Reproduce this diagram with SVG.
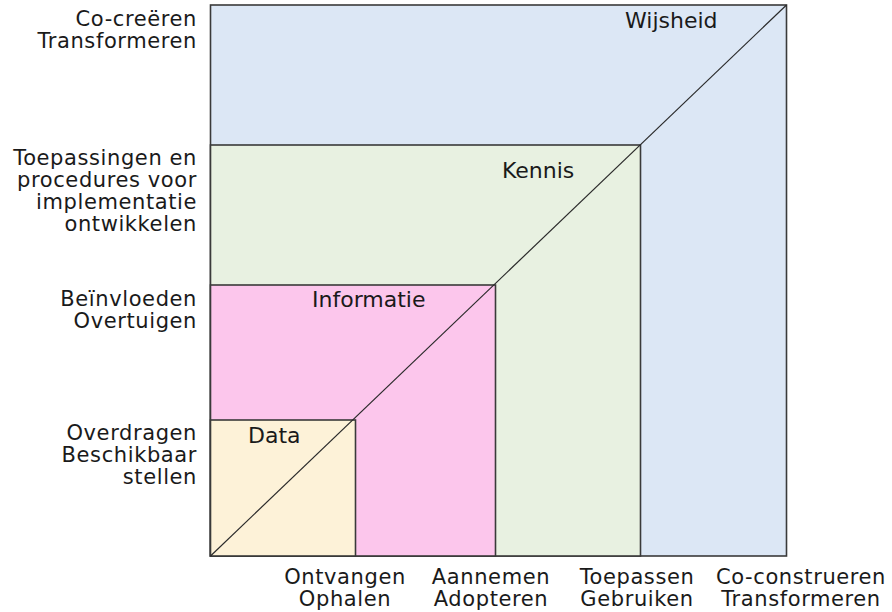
<svg xmlns="http://www.w3.org/2000/svg" width="892" height="612" viewBox="0 0 892 612">
<style>
  text { font-family: "DejaVu Sans", Verdana, sans-serif; font-size: 21px; fill: #1a1a1a; }
  .lvl { stroke: #3a3a3a; stroke-width: 1.6; }
  .side { text-anchor: end; letter-spacing: 0.6px; }
  .bot { text-anchor: middle; letter-spacing: 0.6px; }
  .name { font-size: 22px; }
</style>
<rect width="892" height="612" fill="#ffffff"/>
<g id="wijsheid">
  <rect class="lvl" x="210.5" y="5" width="576" height="551" fill="#dce7f5"/>
  <text class="name" x="625" y="28">Wijsheid</text>
</g>
<g id="kennis">
  <rect class="lvl" x="210.5" y="145" width="430" height="411" fill="#e8f1e1"/>
  <text class="name" x="502" y="178">Kennis</text>
</g>
<g id="informatie">
  <rect class="lvl" x="210.5" y="285" width="285" height="271" fill="#fcc6ec"/>
  <text class="name" x="312" y="307">Informatie</text>
</g>
<g id="data">
  <rect class="lvl" x="210.5" y="420" width="145" height="136" fill="#fdf2d8"/>
  <text class="name" x="248" y="443">Data</text>
</g>
<g id="connectors">
  <line x1="210.5" y1="556" x2="786.5" y2="5" stroke="#2a2a2a" stroke-width="1.2"/>
</g>
<g id="y-labels">
  <text class="side" x="197" y="26">Co-creëren</text>
  <text class="side" x="197" y="48">Transformeren</text>
  <text class="side" x="197" y="165">Toepassingen en</text>
  <text class="side" x="197" y="187">procedures voor</text>
  <text class="side" x="197" y="209">implementatie</text>
  <text class="side" x="197" y="231">ontwikkelen</text>
  <text class="side" x="197" y="306">Beïnvloeden</text>
  <text class="side" x="197" y="328">Overtuigen</text>
  <text class="side" x="197" y="440">Overdragen</text>
  <text class="side" x="197" y="462">Beschikbaar</text>
  <text class="side" x="197" y="484">stellen</text>
</g>
<g id="x-labels">
  <text class="bot" x="345" y="584">Ontvangen</text>
  <text class="bot" x="345" y="606">Ophalen</text>
  <text class="bot" x="491" y="584">Aannemen</text>
  <text class="bot" x="491" y="606">Adopteren</text>
  <text class="bot" x="637" y="584">Toepassen</text>
  <text class="bot" x="637" y="606">Gebruiken</text>
  <text class="bot" x="801" y="584">Co-construeren</text>
  <text class="bot" x="801" y="606">Transformeren</text>
</g>
</svg>
